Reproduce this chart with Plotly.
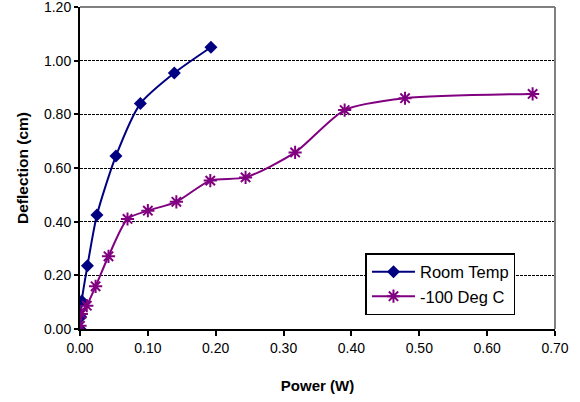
import plotly.graph_objects as go

room_x = [0.0, 0.001, 0.0025, 0.011, 0.025, 0.053, 0.089, 0.139, 0.193]
room_y = [0.0, 0.045, 0.104, 0.236, 0.425, 0.645, 0.84, 0.954, 1.05]

cold_x = [0.0, 0.002, 0.01, 0.023, 0.042, 0.070, 0.10, 0.142, 0.192, 0.244, 0.317, 0.39, 0.479, 0.667]
cold_y = [0.012, 0.056, 0.087, 0.159, 0.271, 0.41, 0.441, 0.474, 0.553, 0.565, 0.658, 0.816, 0.86, 0.876]

x_ticks = [0.0, 0.1, 0.2, 0.3, 0.4, 0.5, 0.6, 0.7]
y_ticks = [0.0, 0.2, 0.4, 0.6, 0.8, 1.0, 1.2]

fig = go.Figure()
fig.add_trace(go.Scatter(
    x=room_x, y=room_y, name="Room Temp", mode="lines+markers",
    line=dict(color="#000080", width=2, shape="spline", smoothing=0.7),
    marker=dict(symbol="diamond", size=10, color="#000080"),
))
fig.add_trace(go.Scatter(
    x=cold_x, y=cold_y, name="-100 Deg C", mode="lines+markers",
    line=dict(color="#800080", width=2, shape="spline", smoothing=0.7),
    marker=dict(symbol="asterisk-open", size=11, color="#800080",
                line=dict(color="#800080", width=2)),
))

font = "Liberation Sans, Arial, sans-serif"
fig.update_layout(
    width=580, height=402,
    margin=dict(l=80, r=25, t=7, b=73),
    plot_bgcolor="white", paper_bgcolor="white",
    font=dict(family=font, size=14, color="black"),
    showlegend=True,
    legend=dict(x=0.601, y=0.236, xanchor="left", yanchor="top",
                bordercolor="black", borderwidth=1.5, bgcolor="white",
                font=dict(size=16.5, family=font), itemwidth=43),
    xaxis=dict(range=[0, 0.7], tickvals=x_ticks, tickformat=".2f",
               showline=True, linecolor="black", linewidth=2,
               ticks="outside", ticklen=5, tickcolor="black", tickwidth=2,
               showgrid=False, zeroline=False, mirror=False,
               ticklabeloverflow="allow", automargin=False,
               title=dict(text="<b>Power (W)</b>", font=dict(size=15), standoff=26)),
    yaxis=dict(range=[0, 1.2], tickvals=y_ticks, tickformat=".2f",
               showline=True, linecolor="black", linewidth=2,
               ticks="outside", ticklen=4, tickcolor="black", tickwidth=2,
               showgrid=True, gridcolor="black", gridwidth=1, griddash="3px,1px",
               zeroline=False, ticklabeloverflow="allow", automargin=False,
               title=dict(text="<b>Deflection (cm)</b>", font=dict(size=15.5), standoff=12)),
)
# grey top/right border
fig.add_shape(type="line", xref="paper", yref="paper", x0=0, x1=1, y0=1, y1=1,
              line=dict(color="#808080", width=2))
fig.add_shape(type="line", xref="paper", yref="paper", x0=1, x1=1, y0=0, y1=1,
              line=dict(color="#808080", width=2))

fig.write_html("out.html")
